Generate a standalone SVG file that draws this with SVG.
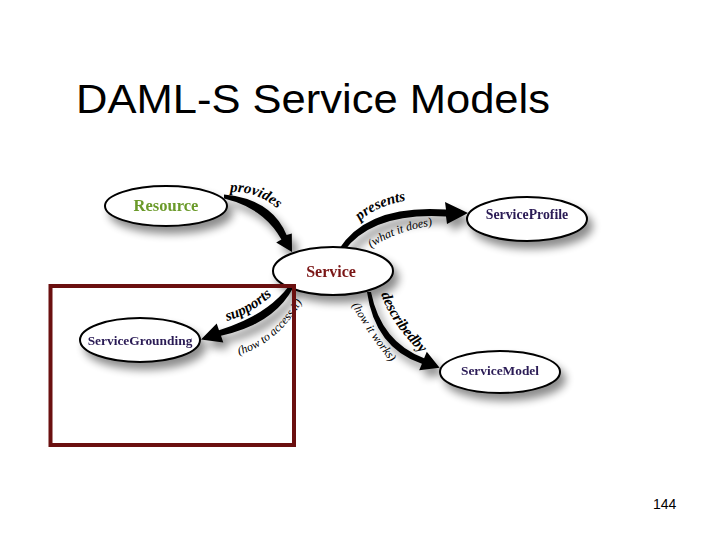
<svg xmlns="http://www.w3.org/2000/svg" width="720" height="540" viewBox="0 0 720 540">
<style>
.title{font-family:"Liberation Sans",Arial,sans-serif;font-size:40px;fill:#000}
.pg{font-family:"Liberation Sans",Arial,sans-serif;font-size:14px;fill:#000}
.node ellipse{fill:#fff;stroke:#000;stroke-width:2}
.nl{font-family:"Liberation Serif","Times New Roman",serif;font-weight:bold;text-anchor:middle}
.arrow{fill:#000}
.lbl{font-family:"Liberation Serif","Times New Roman",serif;font-style:italic;font-weight:bold;font-size:15px;fill:#000}
.sub{font-family:"Liberation Serif","Times New Roman",serif;font-style:italic;font-size:12px;fill:#000}
</style>
<defs>
<filter id="sh" x="-30%" y="-40%" width="170%" height="200%">
<feGaussianBlur in="SourceAlpha" stdDeviation="4"/>
<feOffset dx="5" dy="7" result="b"/>
<feComponentTransfer><feFuncA type="linear" slope="0.45"/></feComponentTransfer>
<feMerge><feMergeNode/><feMergeNode in="SourceGraphic"/></feMerge>
</filter>
<path id="pProvides" d="M230,192 Q260,191 281,212"/>
<path id="pPresents" d="M360,221 Q377,205 410,200"/>
<path id="pWhat" d="M371,248 Q397,230 436,225"/>
<path id="pSupports" d="M227,321 Q255,313 277,290"/>
<path id="pAccess" d="M239,355 Q282,342 308,291"/>
<path id="pDescribed" d="M381,294 Q391,324 422,354"/>
<path id="pWorks" d="M352,305 Q368,335 394,366"/>
</defs>
<rect width="720" height="540" fill="#fff"/>
<text class="title" x="76" y="113" textLength="474" lengthAdjust="spacingAndGlyphs">DAML-S Service Models</text>
<g id="connectors">
<path class="arrow" filter="url(#sh)" d="M224,194.5 Q272,199 286.6,235 L291.8,233.5 L292,252 L276.2,242.5 L281.4,239.5 Q264,208 224,198.5 Z"/>
<path class="arrow" filter="url(#sh)" d="M339,249 Q368,204 446,209.5 L445,202 L468,213 L447,224 L446,216.5 Q373,212 344,251 Z"/>
<path class="arrow" filter="url(#sh)" d="M289,286 Q266,316 219,330.2 L216.7,323.6 L201,339.6 L223.3,342.4 L221,335.8 Q274,324 293,288 Z"/>
<path class="arrow" filter="url(#sh)" d="M371,292 Q381,342 424.1,358.2 L426.8,351.8 L439.6,367.8 L419.2,370.2 L421.9,363.8 Q375,348 367,292 Z"/>
<text class="lbl"><textPath href="#pProvides">provides</textPath></text>
<text class="lbl"><textPath href="#pPresents">presents</textPath></text>
<text class="sub"><textPath href="#pWhat">(what it does)</textPath></text>
<text class="lbl"><textPath href="#pSupports">supports</textPath></text>
<text class="sub" font-size="11.5"><textPath href="#pAccess">(how to access it)</textPath></text>
<text class="lbl" font-size="13.5"><textPath href="#pDescribed">describedby</textPath></text>
<text class="sub"><textPath href="#pWorks">(how it works)</textPath></text>
</g>
<g id="resource" class="node" filter="url(#sh)">
<ellipse cx="166" cy="206" rx="61" ry="20"/>
<text class="nl" x="166" y="211" font-size="16.5" fill="#6b9a2a">Resource</text>
</g>
<g id="serviceprofile" class="node" filter="url(#sh)">
<ellipse cx="527" cy="219" rx="60" ry="22"/>
<text class="nl" x="527" y="219" font-size="13.8" fill="#2a1a55">ServiceProfile</text>
</g>
<g id="service" class="node" filter="url(#sh)">
<ellipse cx="333" cy="271" rx="60" ry="24"/>
<text class="nl" x="331" y="277" font-size="16" fill="#7a1515">Service</text>
</g>
<g id="servicegrounding" class="node" filter="url(#sh)">
<ellipse cx="140" cy="340" rx="60" ry="22"/>
<text class="nl" x="140" y="345" font-size="13.4" fill="#2a1a55">ServiceGrounding</text>
</g>
<g id="servicemodel" class="node" filter="url(#sh)">
<ellipse cx="500" cy="372" rx="60" ry="21"/>
<text class="nl" x="500" y="375" font-size="13.4" fill="#2a1a55">ServiceModel</text>
</g>
<rect id="highlight" x="50.5" y="286" width="243.5" height="159" fill="none" stroke="#6b1010" stroke-width="4"/>
<text class="pg" x="653" y="509">144</text>
</svg>
